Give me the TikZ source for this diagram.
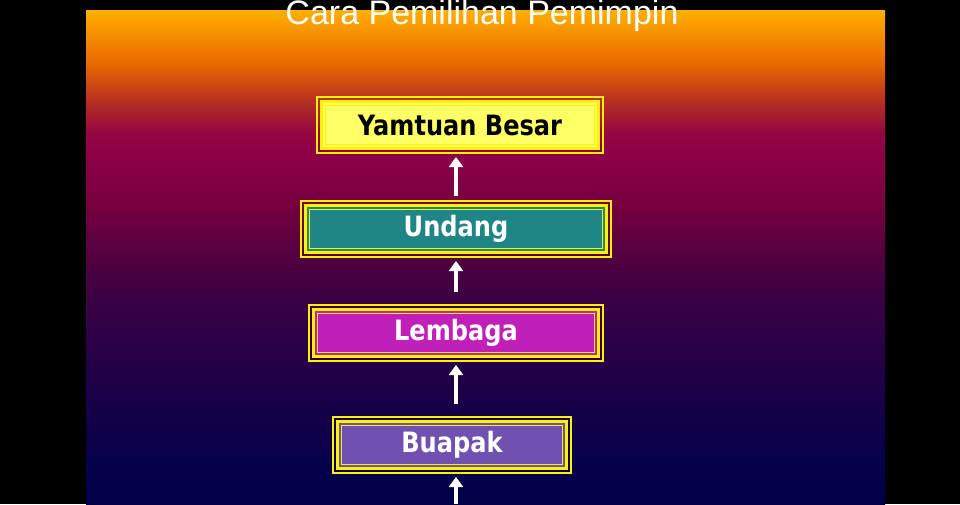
\documentclass[tikz,border=0pt]{standalone}
\usepackage{fontspec}
\setmainfont{Liberation Sans}
\newfontfamily\boxfont[FakeStretch=0.86]{DejaVu Sans}
\usetikzlibrary{arrows.meta}

\definecolor{ytfill}{HTML}{FFFF66}
\definecolor{udfill}{HTML}{1F8585}
\definecolor{lbfill}{HTML}{C020B8}
\definecolor{bpfill}{HTML}{7050B0}

\pgfdeclareverticalshading{sunset}{100bp}{rgb(0bp)=(0,0,0.28); rgb(25bp)=(0,0,0.28);
  rgb(30bp)=(0.03,0,0.29); rgb(35bp)=(0.09,0,0.28); rgb(40.6bp)=(0.157,0,0.28);
  rgb(45.6bp)=(0.23,0,0.27); rgb(49.5bp)=(0.31,0,0.25); rgb(55.5bp)=(0.47,0,0.25);
  rgb(60bp)=(0.55,0,0.28); rgb(62.5bp)=(0.58,0.02,0.26); rgb(65.9bp)=(0.72,0.19,0.13);
  rgb(69.5bp)=(0.91,0.41,0); rgb(72.5bp)=(0.96,0.56,0); rgb(75bp)=(1,0.69,0);
  rgb(100bp)=(1,0.69,0)}

\begin{document}
\begin{tikzpicture}[x=0.75pt,y=0.75pt,yscale=-1,
  box/.style={draw=yellow, line width=2.25pt, outer sep=0pt, inner sep=0pt, minimum height=35.25pt,
    font=\boxfont\bfseries\fontsize{21}{25}\selectfont, text=white},
  uparrow/.style={draw=white, line width=3pt, -{Triangle[width=10.5pt,length=7.5pt]}, shorten >=6.375pt}]
\useasboundingbox (0,0) rectangle (960,504);

%Background
\fill[black] (0,0) rectangle (960,504);
\shade[shading=sunset] (86,10) rectangle (885,504);

%Title
\node[anchor=base, text=white, font=\fontsize{25.5}{30}\selectfont] (title) at (482,24) {Cara Pemilihan Pemimpin};

%Boxes
\node[box, fill=ytfill, text=black, minimum width=207.75pt] (yamtuan) at (460,125) {Yamtuan Besar};
\node[box, fill=udfill, minimum width=225.75pt] (undang) at (456,229) {Undang};
\node[box, fill=lbfill, minimum width=213.75pt] (lembaga) at (456,333) {Lembaga};
\node[box, fill=bpfill, minimum width=171.75pt] (buapak) at (452,445) {Buapak};

%Frames
\foreach \n in {yamtuan,undang,lembaga,buapak}{
  \draw[yellow, line width=1.5pt] ([shift={(-4.5,-4.5)}]\n.north west) rectangle ([shift={(4.5,4.5)}]\n.south east);
  \draw[yellow, line width=0.75pt] ([shift={(4,4)}]\n.north west) rectangle ([shift={(-4,-4)}]\n.south east);
}

%Arrows
\coordinate (base) at (456,504);
\draw[uparrow, shorten <=7.125pt] (undang.north) -- (undang.north |- yamtuan.south);
\draw[uparrow, shorten <=13.125pt] (lembaga.north) -- (undang.south);
\draw[uparrow, shorten <=13.125pt] (lembaga.south |- buapak.north) -- (lembaga.south);
\draw[uparrow] (base) -- (base |- buapak.south);

\end{tikzpicture}
\end{document}
